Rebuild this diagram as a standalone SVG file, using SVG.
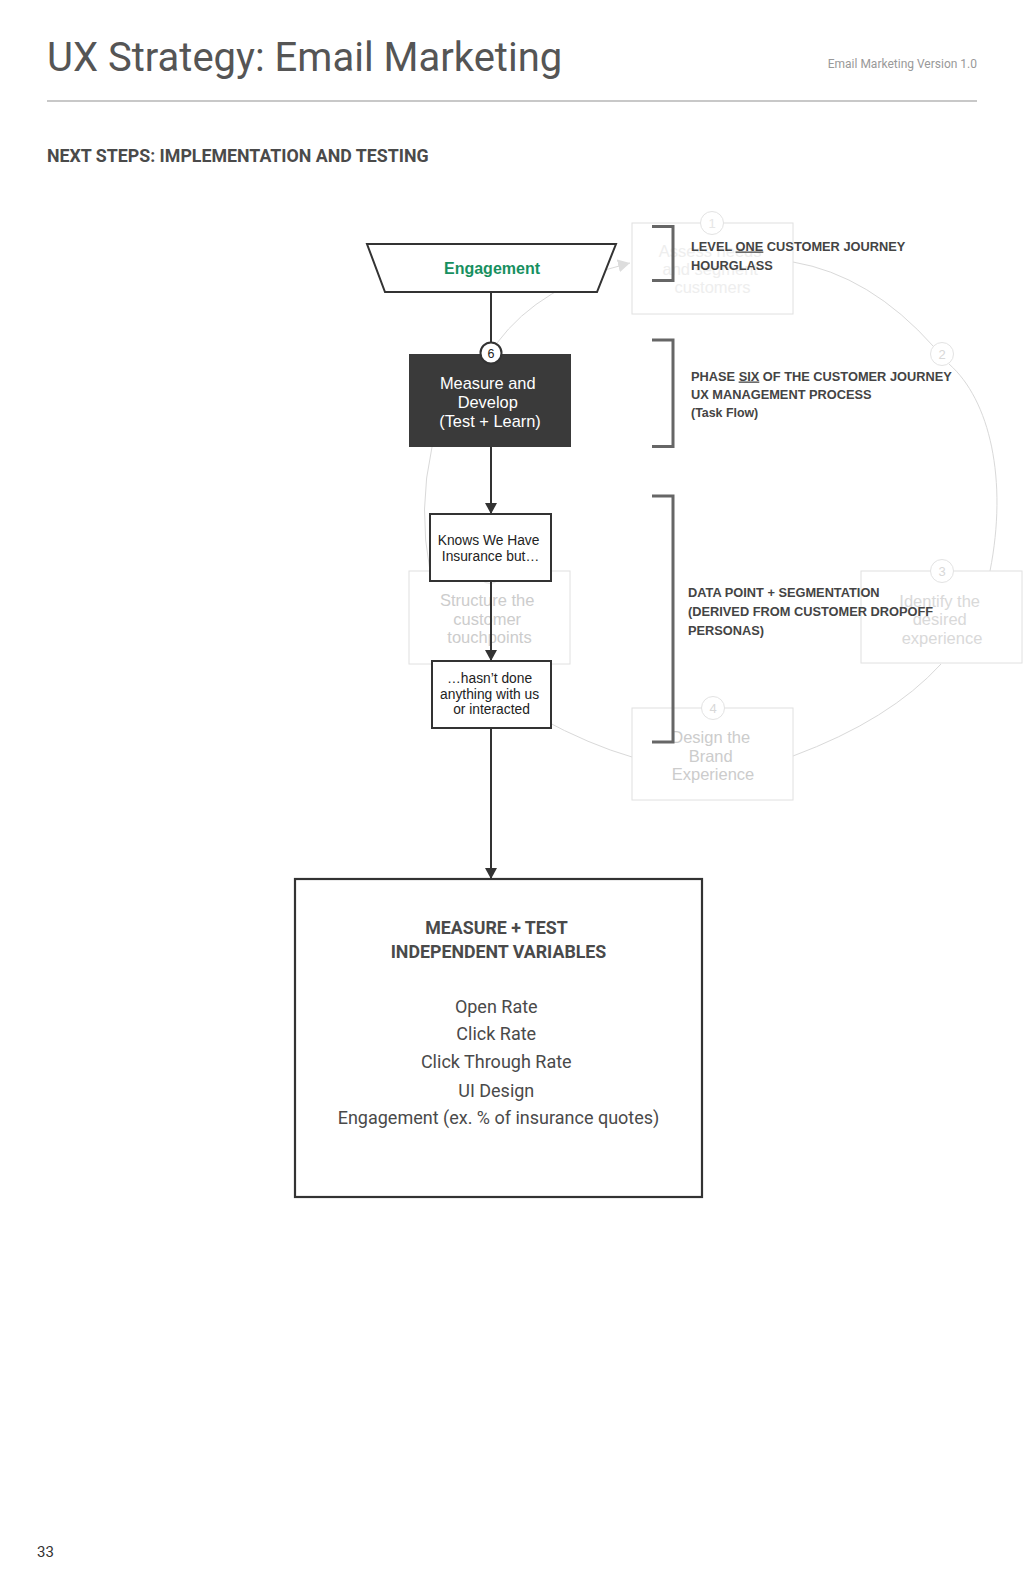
<svg xmlns="http://www.w3.org/2000/svg" width="1024" height="1587" viewBox="0 0 1024 1587">
  <style>
    .title { font-family: Roboto, "Liberation Sans", sans-serif; font-size: 40px; fill: #555555; }
    .version { font-family: Roboto, "Liberation Sans", sans-serif; font-size: 12px; fill: #999999; }
    .header { font-family: Roboto, "Liberation Sans", sans-serif; font-size: 17.8px; font-weight: bold; fill: #4a4a4a; }
    .note { font-family: "Liberation Sans", Arial, sans-serif; font-size: 12.8px; font-weight: bold; fill: #444444; }
    .note-small { font-size: 12.4px; }
    .bracket { fill: none; stroke: #666666; stroke-width: 3; }
    .bg-box { fill: none; stroke: #e0e0e0; stroke-width: 1; }
    .bg-text { font-family: "Liberation Sans", Arial, sans-serif; font-size: 16.5px; fill: #cccccc; text-anchor: middle; }
    .bg-badge { fill: #ffffff; stroke: #e3e3e3; stroke-width: 1; }
    .bg-num { font-family: "Liberation Sans", Arial, sans-serif; font-size: 13px; fill: #d8d8d8; text-anchor: middle; }
    .bg-arc { fill: none; stroke: #d9d9d9; stroke-width: 1; }
    .box { fill: #ffffff; stroke: #333333; stroke-width: 2; }
    .label { font-family: "Liberation Sans", Arial, sans-serif; font-size: 13.8px; fill: #222222; text-anchor: middle; }
    .flow { fill: none; stroke: #333333; stroke-width: 2; }
    .big-title { font-family: Roboto, "Liberation Sans", sans-serif; font-size: 17.8px; font-weight: bold; fill: #4a4a4a; text-anchor: middle; }
    .item { font-family: Roboto, "Liberation Sans", sans-serif; font-size: 18px; fill: #4a4a4a; text-anchor: middle; }
  </style>
  <defs>
    <marker id="arrow" markerUnits="userSpaceOnUse" markerWidth="12" markerHeight="12" refX="11" refY="6" orient="auto">
      <path d="M0,0 L11,6 L0,12 Z" fill="#333333"/>
    </marker>
    <marker id="arrow-faint" markerUnits="userSpaceOnUse" markerWidth="13" markerHeight="13" refX="12" refY="6.5" orient="auto">
      <path d="M0,0 L12,6.5 L0,13 Z" fill="#dddddd"/>
    </marker>
  </defs>

  <rect width="1024" height="1587" fill="#ffffff"/>

  <!-- Header -->
  <g id="header">
    <text class="title" x="47" y="71">UX Strategy: Email Marketing</text>
    <text class="version" x="977" y="68" text-anchor="end">Email Marketing Version 1.0</text>
    <line x1="47" y1="101" x2="977" y2="101" stroke="#c8c8c8" stroke-width="2"/>
    <text class="header" x="47" y="162">NEXT STEPS: IMPLEMENTATION AND TESTING</text>
  </g>

  <!-- Faint background cycle -->
  <g id="background-cycle-connectors">
    <path class="bg-arc" d="M497,343 Q540,285 630,263" marker-end="url(#arrow-faint)"/>
    <path class="bg-arc" d="M793,262 Q870,275 934,347"/>
    <path class="bg-arc" d="M949,364 C990,400 1008,480 990,571"/>
    <path class="bg-arc" d="M941,664 Q890,720 793,756"/>
    <path class="bg-arc" d="M632,757 Q590,745 540,718"/>
    <path class="bg-arc" d="M430,571 Q418,509 432,447"/>
  </g>

  <g id="bg-node-1">
    <rect class="bg-box" x="632" y="223" width="161" height="91" stroke="#ececec"/>
    <text class="bg-text" fill="#eeeeee" style="fill:#eeeeee">
      <tspan x="712.5" y="257">Assess needs</tspan>
      <tspan x="712.5" y="275">and segment</tspan>
      <tspan x="712.5" y="293">customers</tspan>
    </text>
    <circle class="bg-badge" cx="712" cy="223" r="11.5" stroke="#ececec"/>
    <text class="bg-num" x="712" y="227.5" style="fill:#e6e6e6">1</text>
  </g>

  <g id="bg-node-2">
    <circle class="bg-badge" cx="942" cy="354" r="11.5"/>
    <text class="bg-num" x="942" y="358.5">2</text>
  </g>

  <g id="bg-node-3">
    <rect class="bg-box" x="861" y="571" width="161" height="92" stroke="#e6e6e6"/>
    <text class="bg-text" style="fill:#d9d9d9">
      <tspan x="942" y="606.5">Identify the</tspan>
      <tspan x="942" y="625">desired</tspan>
      <tspan x="942" y="643.5">experience</tspan>
    </text>
    <circle class="bg-badge" cx="942" cy="571" r="11.5"/>
    <text class="bg-num" x="942" y="575.5">3</text>
  </g>

  <g id="bg-node-4">
    <rect class="bg-box" x="632" y="708" width="161" height="92" stroke="#dcdcdc"/>
    <text class="bg-text">
      <tspan x="713" y="743">Design the</tspan>
      <tspan x="713" y="761.5">Brand</tspan>
      <tspan x="713" y="780">Experience</tspan>
    </text>
    <circle class="bg-badge" cx="713" cy="708" r="11.5"/>
    <text class="bg-num" x="713" y="712.5">4</text>
  </g>

  <g id="bg-node-5">
    <rect class="bg-box" x="409" y="571" width="161" height="93" stroke="#d6d6d6"/>
    <text class="bg-text">
      <tspan x="489.5" y="606">Structure the</tspan>
      <tspan x="489.5" y="624.5">customer</tspan>
      <tspan x="489.5" y="643">touchpoints</tspan>
    </text>
    <circle class="bg-badge" cx="490" cy="572" r="11.5"/>
  </g>

  <!-- Annotations -->
  <g id="annotation-1">
    <path class="bracket" d="M652,226.5 H673 V280.5 H652"/>
    <text class="note">
      <tspan x="691" y="250.5">LEVEL <tspan text-decoration="underline">ONE</tspan> CUSTOMER JOURNEY</tspan>
      <tspan x="691" y="269.5">HOURGLASS</tspan>
    </text>
  </g>

  <g id="annotation-2">
    <path class="bracket" d="M652,340 H673 V446.5 H652"/>
    <text class="note">
      <tspan x="691" y="380.5">PHASE <tspan text-decoration="underline">SIX</tspan> OF THE CUSTOMER JOURNEY</tspan>
      <tspan x="691" y="399">UX MANAGEMENT PROCESS</tspan>
      <tspan x="691" y="417" class="note-small">(Task Flow)</tspan>
    </text>
  </g>

  <g id="annotation-3">
    <path class="bracket" d="M652,496 H673 V742 H652"/>
    <text class="note">
      <tspan x="688" y="597">DATA POINT + SEGMENTATION</tspan>
      <tspan x="688" y="616">(DERIVED FROM CUSTOMER DROPOFF</tspan>
      <tspan x="688" y="635">PERSONAS)</tspan>
    </text>
  </g>

  <!-- Main flow connectors -->
  <g id="connectors">
    <line class="flow" x1="491" y1="292" x2="491" y2="344"/>
    <line class="flow" x1="491" y1="447" x2="491" y2="514" marker-end="url(#arrow)"/>
    <line class="flow" x1="491" y1="581" x2="491" y2="661" marker-end="url(#arrow)"/>
    <line class="flow" x1="491" y1="728" x2="491" y2="879" marker-end="url(#arrow)"/>
  </g>

  <!-- Main flow nodes -->
  <g id="node-engagement">
    <polygon points="367,244 616,244 597,292 385,292" fill="#ffffff" stroke="#333333" stroke-width="2"/>
    <text x="492" y="274" font-family="'Liberation Sans', Arial, sans-serif" font-size="16" font-weight="bold" fill="#17905f" text-anchor="middle">Engagement</text>
  </g>

  <g id="node-measure-develop">
    <rect x="409" y="354" width="162" height="93" fill="#3a3a3a"/>
    <text font-family="'Liberation Sans', Arial, sans-serif" font-size="16.4" fill="#ffffff" text-anchor="middle">
      <tspan x="490" y="389">Measure and</tspan>
      <tspan x="490" y="408">Develop</tspan>
      <tspan x="490" y="427">(Test + Learn)</tspan>
    </text>
    <circle cx="491" cy="353" r="10.5" fill="#ffffff" stroke="#333333" stroke-width="2"/>
    <text x="491" y="357.5" font-family="'Liberation Sans', Arial, sans-serif" font-size="12.5" fill="#222222" text-anchor="middle">6</text>
  </g>

  <g id="node-knows">
    <rect class="box" x="430" y="514" width="121" height="67"/>
    <text class="label">
      <tspan x="490.5" y="545">Knows We Have</tspan>
      <tspan x="490.5" y="561">Insurance but…</tspan>
    </text>
  </g>

  <g id="node-hasnt">
    <rect class="box" x="432" y="661" width="119" height="67"/>
    <text class="label">
      <tspan x="491.5" y="683">…hasn’t done</tspan>
      <tspan x="491.5" y="698.5">anything with us</tspan>
      <tspan x="491.5" y="714">or interacted</tspan>
    </text>
  </g>

  <g id="node-variables">
    <rect x="295" y="879" width="407" height="318" fill="#ffffff" stroke="#333333" stroke-width="2.2"/>
    <text class="big-title">
      <tspan x="498.5" y="934">MEASURE + TEST</tspan>
      <tspan x="498.5" y="958">INDEPENDENT VARIABLES</tspan>
    </text>
    <text class="item">
      <tspan x="498.5" y="1012.5">Open Rate</tspan>
      <tspan x="498.5" y="1040.3">Click Rate</tspan>
      <tspan x="498.5" y="1068.3">Click Through Rate</tspan>
      <tspan x="498.5" y="1096.5">UI Design</tspan>
      <tspan x="498.5" y="1124.3">Engagement (ex. % of insurance quotes)</tspan>
    </text>
  </g>

  <g id="page-number">
    <text x="37" y="1557" font-family="Roboto, 'Liberation Sans', sans-serif" font-size="15" fill="#333333">33</text>
  </g>
</svg>
